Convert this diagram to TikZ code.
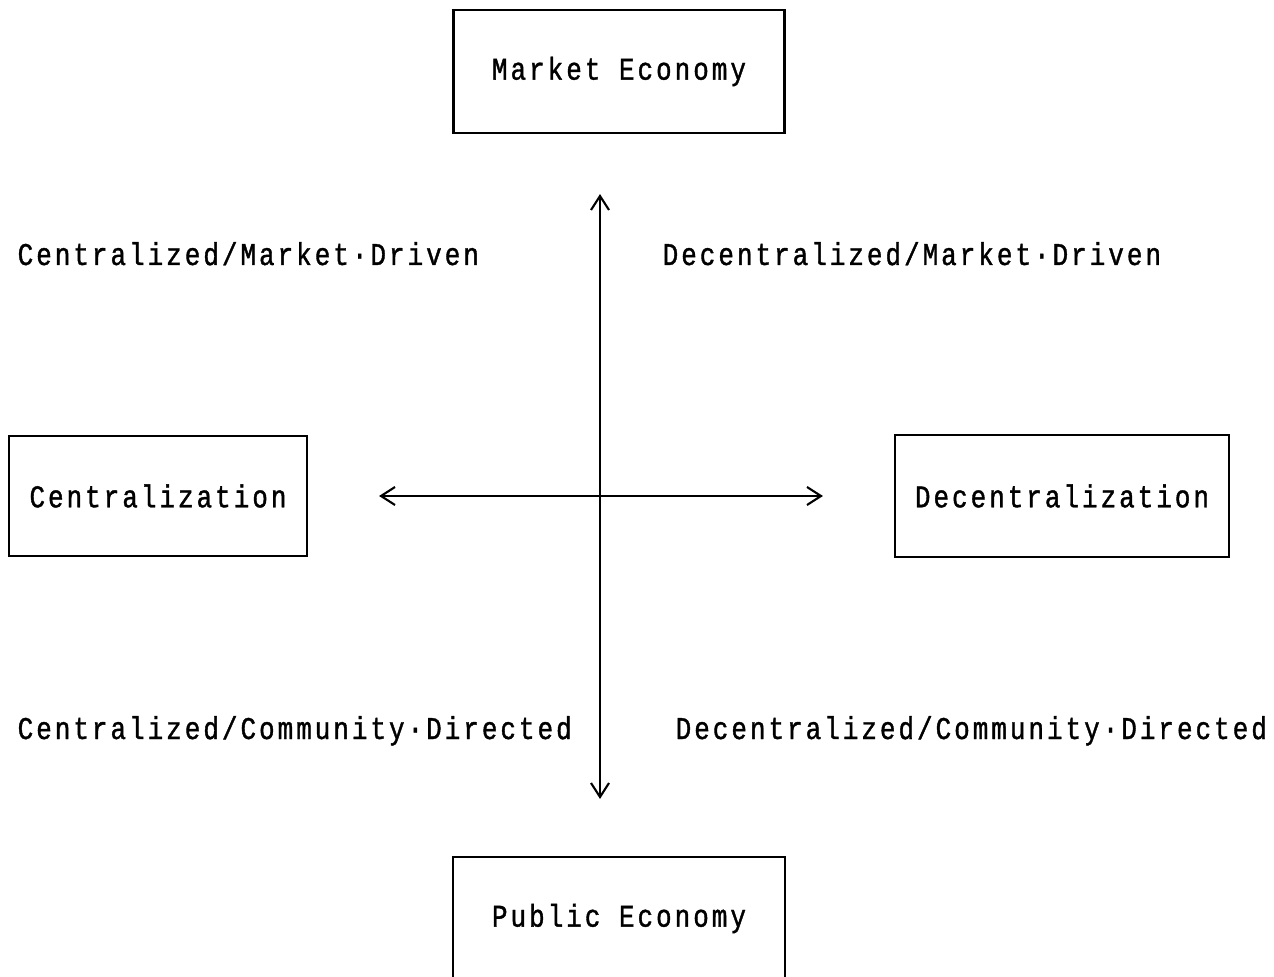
\documentclass[tikz,border=0pt]{standalone}
\usepackage{fontspec}
\newfontfamily\typefont[FakeStretch=0.82, LetterSpace=9.5, FakeBold=1.2]{Liberation Mono}
\usetikzlibrary{positioning, arrows.meta}
\tikzset{
  box/.style = {draw, line width=0.6pt, inner sep=0pt, font=\typefont\fontsize{9}{10}\selectfont},
  quad/.style = {anchor=base west, inner sep=0pt, font=\typefont\fontsize{9}{10}\selectfont},
  axis/.style = {line width=0.6pt, {Straight Barb[length=1.4mm,width=1.8mm]}-{Straight Barb[length=1.4mm,width=1.8mm]}}
}

\begin{document}
\begin{tikzpicture}
    \useasboundingbox (-6,-4.8) rectangle (6.74,4.96);
    \coordinate (o) at (0,0);

    % Boxes
    \node[box, minimum width=3.31cm, minimum height=1.23cm] (market) at (0.19,4.245) {Market Economy};
    \node[box, minimum width=3.32cm, minimum height=1.23cm] (public) at (0.19,-4.225) {Public Economy};
    \node[box, minimum width=2.98cm, minimum height=1.20cm] (central) at (-4.42,0) {Centralization};
    \node[box, minimum width=3.34cm, minimum height=1.22cm] (decentral) at (4.62,0) {Decentralization};

    % Quadrant labels
    \node[quad] (cmd) at (-5.83,2.31) {Centralized/Market·Driven};
    \node[quad] (dmd) at (0.62,2.31) {Decentralized/Market·Driven};
    \node[quad] (ccd) at (-5.83,-2.43) {Centralized/Community·Directed};
    \node[quad] (dcd) at (0.75,-2.43) {Decentralized/Community·Directed};

    % Axes
    \draw[axis, shorten <=6mm, shorten >=5.7mm] (market.south -| o) -- (public.north -| o);
    \draw[axis, shorten <=7.1mm, shorten >=7.1mm] (central) -- (decentral);
\end{tikzpicture}
\end{document}
